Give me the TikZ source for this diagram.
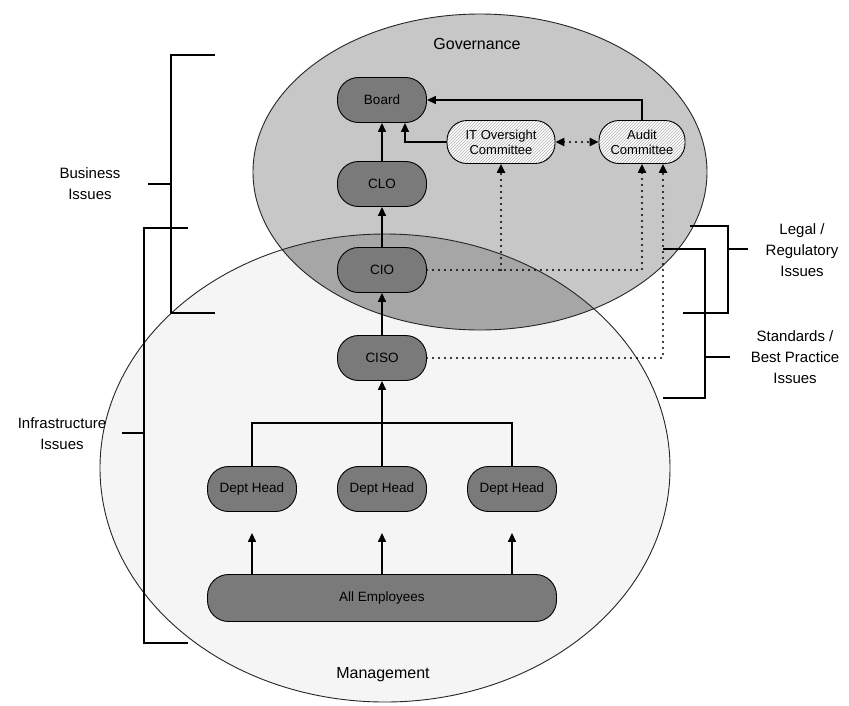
\documentclass[tikz,border=0pt]{standalone}
\usepackage{fontspec}
\setmainfont{Liberation Sans}
\usetikzlibrary{arrows.meta,patterns,calc}
\begin{document}
\begin{tikzpicture}[x=1pt,y=-1pt,
  box/.style={draw=black, line width=0.9pt, fill=black!52, rounded corners=21pt,
    minimum width=89pt, minimum height=45pt, inner sep=1pt,
    font=\fontsize{13.5}{15}\selectfont},
  cbox/.style={draw=black, line width=0.9pt, preaction={fill=white},
    pattern=north east lines, pattern color=black!30, rounded corners=20pt,
    minimum height=43pt, inner sep=1pt, align=center,
    font=\fontsize{13}{15}\selectfont},
  lab/.style={align=center, font=\fontsize{15}{21}\selectfont},
  title/.style={font=\fontsize{16}{19}\selectfont},
  arr/.style={line width=1.6pt, -{Triangle[length=9pt,width=8pt]}},
  dotarr/.style={line width=2.2pt, dash pattern=on 0pt off 6pt, line cap=round,
    -{Triangle[length=9pt,width=8pt]}},
  brk/.style={line width=1.8pt},
  ell/.style={line width=0.9pt, draw=black!85}
]
\useasboundingbox (0,0) rectangle (849,705);

% ellipses
\fill[black!4] (385,468) ellipse [x radius=285pt, y radius=234pt];
\fill[black!22] (480,172) ellipse [x radius=227pt, y radius=158pt];
\begin{scope}
  \clip (480,172) ellipse [x radius=227pt, y radius=158pt];
  \fill[black!35] (385,468) ellipse [x radius=285pt, y radius=234pt];
\end{scope}
\draw[ell] (385,468) ellipse [x radius=285pt, y radius=234pt];
\draw[ell] (480,172) ellipse [x radius=227pt, y radius=158pt];

\node[title] (gov) at (477,44) {Governance};
\node[title] (man) at (383,675) {Management};

% nodes
\node[box] (board) at (382,100) {Board};
\node[box] (clo) at (382,184) {CLO};
\node[box] (cio) at (382,270) {CIO};
\node[box] (ciso) at (382,358) {CISO};
\node[cbox, minimum width=108pt] (itoc) at (501,142) {IT Oversight\\Committee};
\node[cbox, minimum width=86pt] (audit) at (642,142) {Audit\\Committee};
\node[box] (dh1) at (252,489) {Dept Head};
\node[box] (dh2) at (382,489) {Dept Head};
\node[box] (dh3) at (512,489) {Dept Head};
\node[box, minimum width=349pt, minimum height=47pt] (all) at (382,598) {All Employees};

% solid connectors
\draw[arr] (clo) -- (board);
\draw[arr] (cio) -- (clo);
\draw[arr] (ciso) -- (cio);
\draw[arr] (itoc.west) -| (board.south -| 405,0);
\draw[arr] (audit.north) |- (board.east);
\coordinate (teeL) at (252,423);
\draw[line width=1.6pt] (dh1.north) -- (teeL) -| (dh3.north);
\draw[arr] (dh2.north) -- (ciso.south);
\draw[arr, shorten >=21pt] (all.north -| dh1) -- (dh1.south);
\draw[arr, shorten >=21pt] (all.north -| dh2) -- (dh2.south);
\draw[arr, shorten >=21pt] (all.north -| dh3) -- (dh3.south);

% dotted connectors
\draw[dotarr, {Triangle[length=9pt,width=8pt]}-{Triangle[length=9pt,width=8pt]}] (itoc.east) -- (audit.west);
\draw[dotarr] (cio.east) -| (audit.south);
\draw[dotarr] (cio.east -| itoc.south) -- (itoc.south);
\draw[dotarr] (ciso.east) -| (audit.south -| 663,0);

% left brackets
\draw[brk] (215,55) -- (171,55) -- (171,313) -- (215,313);
\draw[brk] (171,184) -- (148,184);
\node[lab] (lbus) at (90,184) {Business\\Issues};
\draw[brk] (188,228) -- (144,228) -- (144,643) -- (188,643);
\draw[brk] (144,433) -- (122,433);
\node[lab] (linf) at (62,434) {Infrastructure\\Issues};

% right brackets
\draw[brk] (690,226) -- (728,226) -- (728,313) -- (683,313);
\draw[brk] (728,249) -- (748,249);
\node[lab] (lleg) at (802,250) {Legal /\\Regulatory\\Issues};
\draw[brk] (663,249) -- (705,249) -- (705,398) -- (663,398);
\draw[brk] (705,357) -- (730,357);
\node[lab] (lstd) at (795,357) {Standards /\\Best Practice\\Issues};
\end{tikzpicture}
\end{document}
